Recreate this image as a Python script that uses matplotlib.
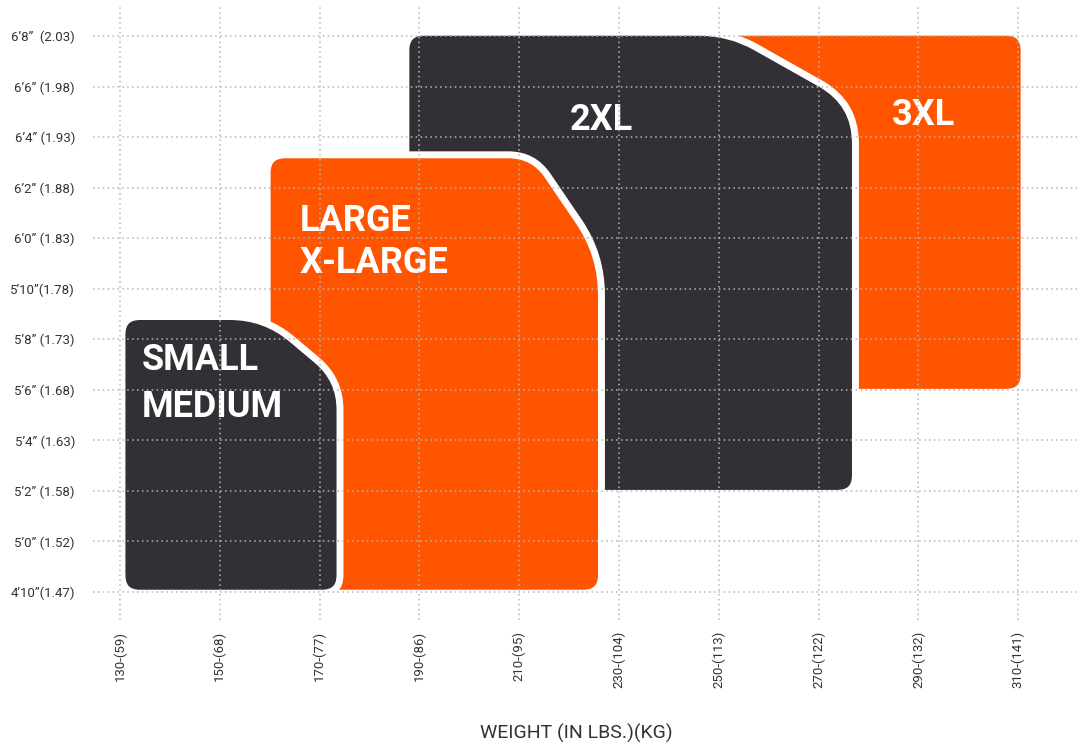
import numpy as np
import matplotlib.pyplot as plt
from matplotlib.path import Path
from matplotlib.patches import PathPatch

plt.rcParams['font.family'] = ['Roboto', 'DejaVu Sans']

# data: size blocks (weight in lbs, height in inches)
sizes = ['SMALL\nMEDIUM', 'LARGE\nX-LARGE', '2XL', '3XL']
weight_lo = [130.4, 159.5, 187.3, 250]
weight_hi = [174.1, 226.5, 277.4, 311.2]
height_lo = [57.95, 57.95, 61.9, 65.9]
height_hi = [68.9, 75.3, 80.15, 80.15]
colors = ['#323034', '#ff5500', '#323034', '#ff5500']

# where the size names sit (left, first baseline)
label_x = [134.4, 166.1, 220.2, 284.7]
label_y = [66.79, 72.29, 76.28, 76.48]

weight_ticks = [130, 150, 170, 190, 210, 230, 250, 270, 290, 310]
weight_labels = ['130-(59)', '150-(68)', '170-(77)', '190-(86)', '210-(95)',
                 '230-(104)', '250-(113)', '270-(122)', '290-(132)', '310-(141)']
height_ticks = [58, 60, 62, 64, 66, 68, 70, 72, 74, 76, 78, 80]
height_labels = ['4’10”(1.47)', '5’0” (1.52)', '5’2” (1.58)', '5’4” (1.63)',
                 '5’6” (1.68)', '5’8” (1.73)', '5’10”(1.78)', '6’0” (1.83)',
                 '6’2” (1.88)', '6’4” (1.93)', '6’6” (1.98)', '6’8”  (2.03)']

# chamfer of the top right corner in px (width, height), corner radii
chamfer = [(75, 63), (68, 100), (126, 71), (0, 0)]
chamfer_r = [(30, 35), (40, 25), (40, 30), (0, 0)]
line_gap = [47, 42, 0, 0]

W, H = 1086, 745
fig = plt.figure(figsize=(W / 100, H / 100), dpi=100)
ax = fig.add_axes([93 / W, 1 - 620 / H, (1077 - 93) / W, (620 - 7) / H])
xlim = (124.6, 321.8)
ylim = (56.89, 81.15)
ax.set_xlim(*xlim)
ax.set_ylim(*ylim)

# px per data unit
sx = (1077 - 93) / (xlim[1] - xlim[0])
sy = (620 - 7) / (ylim[1] - ylim[0])


def block_path(x0, x1, y0, y1, cw, ch, rc, r=18):
    pts = [(x0 * sx, y0 * sy), (x1 * sx, y0 * sy)]
    rad = [r, r]
    if cw > 0:
        pts += [(x1 * sx, y1 * sy - ch), (x1 * sx - cw, y1 * sy)]
        rad += list(rc)
    else:
        pts += [(x1 * sx, y1 * sy)]
        rad += [r]
    pts += [(x0 * sx, y1 * sy)]
    rad += [r]
    verts, codes = [], []
    n = len(pts)
    for i in range(n):
        p = np.array(pts[i])
        a = np.array(pts[i - 1])
        b = np.array(pts[(i + 1) % n])
        ua = (a - p) / np.linalg.norm(a - p)
        ub = (b - p) / np.linalg.norm(b - p)
        verts += [p + ua * rad[i], p, p + ub * rad[i]]
        codes += [Path.MOVETO if i == 0 else Path.LINETO, Path.CURVE3, Path.CURVE3]
    verts.append(verts[0])
    codes.append(Path.CLOSEPOLY)
    verts = np.array(verts) / [sx, sy]
    return Path(verts, codes)


# draw back to front: 3XL, 2XL, LARGE, SMALL
for k in [3, 2, 1, 0]:
    path = block_path(weight_lo[k], weight_hi[k], height_lo[k], height_hi[k],
                      chamfer[k][0], chamfer[k][1], chamfer_r[k])
    ax.add_patch(PathPatch(path, facecolor=colors[k], edgecolor='white',
                           linewidth=5, zorder=0.1 + 0.1 * (3 - k)))
    for j, line in enumerate(sizes[k].split('\n')):
        ax.text(label_x[k], label_y[k] - j * line_gap[k] / sy, line,
                color='white', fontsize=26, fontweight='bold',
                ha='left', va='baseline', zorder=1)

ax.set_axisbelow(False)
ax.grid(True, color='#b5b5b5', linestyle=(0, (1, 2.2)), linewidth=1.1)
ax.set_xticks(weight_ticks)
ax.set_xticklabels(weight_labels, rotation=90, fontsize=9.5, color='#333333')
ax.set_yticks(height_ticks)
ax.set_yticklabels(height_labels, fontsize=9.5, color='#333333')
ax.tick_params(axis='x', length=0, pad=8)
ax.tick_params(axis='y', length=0, pad=13)
for s in ax.spines.values():
    s.set_visible(False)

fig.text(576 / W, 1 - 739 / H, 'WEIGHT (IN LBS.)(KG)', fontsize=14,
         color='#333333', ha='center', va='baseline')

fig.savefig('out.png', dpi=100)
